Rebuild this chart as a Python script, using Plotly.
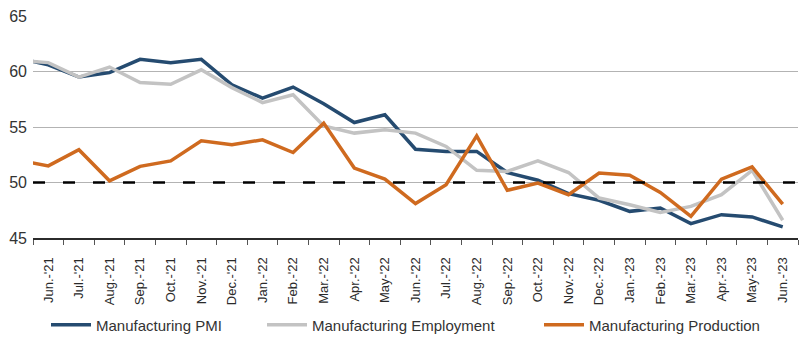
import plotly.graph_objects as go

# Leading "May-'21" point only exists so the lines run to the left edge (it is clipped)
months = ["May-'21", "Jun.-'21", "Jul.-'21", "Aug.-'21", "Sep.-'21", "Oct.-'21", "Nov.-'21",
          "Dec.-'21", "Jan.-'22", "Feb.-'22", "Mar.-'22", "Apr.-'22", "May-'22",
          "Jun.-'22", "Jul.-'22", "Aug.-'22", "Sep.-'22", "Oct.-'22", "Nov.-'22",
          "Dec.-'22", "Jan.-'23", "Feb.-'23", "Mar.-'23", "Apr.-'23", "May-'23", "Jun.-'23"]

pmi = [61.2, 60.6, 59.5, 59.9, 61.1, 60.8, 61.1, 58.8, 57.6, 58.6, 57.1, 55.4, 56.1,
       53.0, 52.8, 52.8, 50.9, 50.2, 49.0, 48.4, 47.4, 47.7, 46.3, 47.1, 46.9, 46.0]
employment = [61.0, 60.8, 59.5, 60.4, 59.0, 58.85, 60.15, 58.55, 57.2, 57.9, 55.1, 54.45, 54.75,
              54.45, 53.25, 51.1, 51.0, 51.95, 50.9, 48.6, 48.0, 47.3, 47.85, 48.9, 51.1, 46.6]
production = [52.0, 51.5, 52.95, 50.15, 51.45, 51.95, 53.75, 53.4, 53.85, 52.7, 55.35, 51.3, 50.3,
              48.1, 49.8, 54.2, 49.3, 49.95, 48.9, 50.85, 50.65, 49.1, 46.95, 50.3, 51.4, 48.05]
threshold = 50

x_idx = list(range(len(months)))

fig = go.Figure()
series = [("Manufacturing PMI", pmi, "#254b70", "legend"),
          ("Manufacturing Employment", employment, "#c3c3c3", "legend2"),
          ("Manufacturing Production", production, "#cf6a1f", "legend3")]
for name, vals, col, lg in series:
    fig.add_trace(go.Scatter(x=x_idx, y=vals, mode="lines", name=name, legend=lg,
                             line=dict(color=col, width=3.5)))

fig.add_hline(y=threshold, line=dict(color="black", width=2.5, dash="12px,18px"), layer="above")

W, H = 800, 338
leg_common = dict(orientation="h", xref="container", yref="container",
                  y=1 - 325 / H, yanchor="middle", xanchor="left",
                  font=dict(size=15, color="#333333"), itemwidth=40,
                  bgcolor="rgba(0,0,0,0)")

fig.update_layout(
    width=W, height=H,
    margin=dict(l=33, r=2, t=16, b=100, autoexpand=False),
    paper_bgcolor="white", plot_bgcolor="white",
    font=dict(family="Liberation Sans, Arial, sans-serif", color="#333333"),
    showlegend=True,
    legend=dict(x=46 / W, **leg_common),
    legend2=dict(x=262 / W, **leg_common),
    legend3=dict(x=539 / W, **leg_common),
    xaxis=dict(
        range=[0.5, 25.5], tickmode="array", tickvals=x_idx[1:], ticktext=months[1:],
        tickangle=-90, ticks="", showgrid=False, zeroline=False, automargin=False,
        showline=True, linecolor="#2b2b2b", linewidth=2, ticklabelstandoff=12,
        tickfont=dict(family="Liberation Sans, Roboto, sans-serif", size=13, color="#2a2a2a"),
        minor=dict(ticks="outside", tick0=0.5, dtick=1, ticklen=5, tickcolor="#555555",
                   tickwidth=1, showgrid=False),
    ),
    yaxis=dict(
        range=[45, 65], tickvals=[45, 50, 55, 60, 65], showgrid=True, automargin=False,
        gridcolor="#b3b3b3", gridwidth=1, zeroline=False, showline=False,
        ticks="", ticklabelstandoff=5, tickfont=dict(size=16, color="#333333"),
    ),
)

fig.write_html("out.html")
